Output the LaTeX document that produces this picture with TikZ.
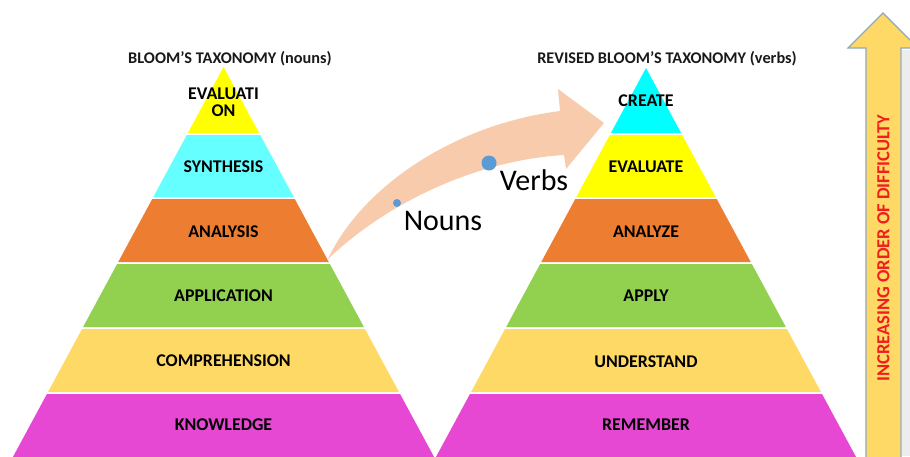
\documentclass[tikz,border=0pt]{standalone}
\usepackage{fontspec}
\setmainfont{Carlito}
\definecolor{cYel}{HTML}{FFFF00}
\definecolor{cCyanL}{HTML}{66FFFF}
\definecolor{cCyanR}{HTML}{00FFFF}
\definecolor{cOra}{HTML}{ED7D31}
\definecolor{cGre}{HTML}{92D050}
\definecolor{cGold}{HTML}{FFD966}
\definecolor{cMag}{HTML}{E648D4}
\definecolor{cPeach}{HTML}{F8CBAD}
\definecolor{cDot}{HTML}{5B9BD5}
\definecolor{cEdge}{HTML}{8FA8C0}
\definecolor{cRed}{HTML}{F01E1E}
\newcommand\pyrlayer[5]{%
  \fill[#5] ({#1-0.54*(#3-#2)},#3) -- ({#1+0.54*(#3-#2)},#3) -- ({#1+0.54*(#4-#2)},#4) -- ({#1-0.54*(#4-#2)},#4) -- cycle;}
\tikzset{
  lbl/.style={font=\fontsize{17.9}{19}\selectfont\bfseries, anchor=base, inner sep=0pt, text=black},
  ttl/.style={font=\fontsize{16.3}{18}\selectfont\bfseries, anchor=base, inner sep=0pt, text=black!90},
  big/.style={font=\fontsize{30}{32}\selectfont, anchor=base, inner sep=0pt, text=black},
}
\begin{document}
\begin{tikzpicture}[x=1pt,y=-1pt]
\useasboundingbox (0,0) rectangle (910,456);
\clip (0,0) rectangle (910,456);
% left pyramid
\pyrlayer{223.5}{67}{67}{133}{cYel}
\pyrlayer{223.5}{67}{135}{197}{cCyanL}
\pyrlayer{223.5}{67}{199}{262}{cOra}
\pyrlayer{223.5}{67}{264}{327}{cGre}
\pyrlayer{223.5}{67}{329}{392}{cGold}
\pyrlayer{223.5}{67}{394}{460}{cMag}
% right pyramid
\pyrlayer{646}{68}{68}{133}{cCyanR}
\pyrlayer{646}{68}{135}{197}{cYel}
\pyrlayer{646}{68}{199}{262}{cOra}
\pyrlayer{646}{68}{264}{327}{cGre}
\pyrlayer{646}{68}{329}{392}{cGold}
\pyrlayer{646}{68}{394}{460}{cMag}
% titles
\node[ttl] (t1) at (230,63) {BLOOM’S TAXONOMY (nouns)};
\node[ttl] (t2) at (667,63) {REVISED BLOOM’S TAXONOMY (verbs)};
% left labels
\node[lbl] (l1a) at (223.5,99) {EVALUATI};
\node[lbl] (l1b) at (223.5,116) {ON};
\node[lbl] (l2) at (223.5,172) {SYNTHESIS};
\node[lbl] (l3) at (223.5,237) {ANALYSIS};
\node[lbl] (l4) at (223.5,301) {APPLICATION};
\node[lbl] (l5) at (223.5,366) {COMPREHENSION};
\node[lbl] (l6) at (223.5,430) {KNOWLEDGE};
% right labels
\node[lbl] (r1) at (646,106) {CREATE};
\node[lbl] (r2) at (646,172) {EVALUATE};
\node[lbl] (r3) at (646,237) {ANALYZE};
\node[lbl] (r4) at (646,301) {APPLY};
\node[lbl] (r5) at (646,367) {UNDERSTAND};
\node[lbl] (r6) at (646,430) {REMEMBER};
% curved arrow
\fill[cPeach] (328,259) .. controls (360,190) and (450,125) .. (560,111)
  -- (558,89) -- (604,123) -- (566,169) -- (564,155)
  .. controls (480,160) and (390,200) .. (328,259) -- cycle;
\fill[cDot] (397,203) circle (4);
\fill[cDot] (489,163) circle (7.5);
\node[big] (nouns) at (443,230) {Nouns};
\node[big] (verbs) at (534,190) {Verbs};
% difficulty arrow
\fill[black!7] (902,50) rectangle (910,456);
\filldraw[fill=cGold, draw=cEdge, line width=1.2pt, line join=miter]
  (866,460) -- (866,48) -- (848,48) -- (883,13) -- (918,48) -- (901,48) -- (901,460);
\node[font=\fontsize{18.4}{20}\selectfont\bfseries, text=cRed, rotate=90, inner sep=0pt] (diff) at (883.5,248) {INCREASING ORDER OF DIFFICULTY};
\end{tikzpicture}
\end{document}
